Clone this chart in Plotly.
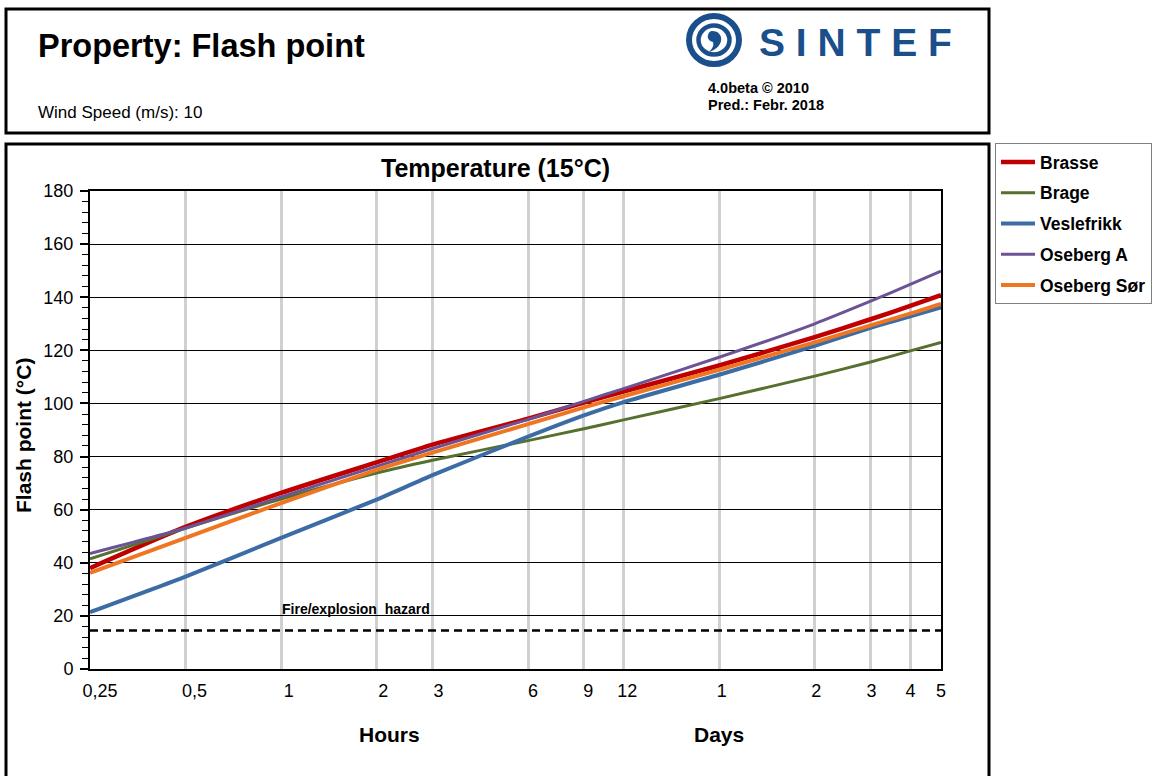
import math
import plotly.graph_objects as go

# Elapsed time (hours) of the sampled points and the flash point of each oil (°C)
hours = [0.25, 0.5, 1, 2, 3, 6, 9, 12, 24, 48, 72, 96, 120]
brasse = [38.0, 53.5, 66.3, 77.8, 84.5, 94.3, 100.3, 104.5, 114.3, 125.0, 131.7, 136.7, 140.8]
brage = [41.5, 53.0, 64.0, 73.8, 78.6, 86.0, 90.5, 93.8, 101.8, 110.3, 115.6, 119.8, 123.0]
veslefrikk = [21.4, 34.8, 49.4, 63.8, 73.0, 87.5, 95.5, 100.5, 110.8, 121.7, 128.5, 132.8, 136.2]
oseberg_a = [43.5, 53.1, 64.8, 76.3, 83.0, 94.0, 100.8, 105.6, 117.4, 130.0, 138.5, 144.8, 149.8]
oseberg_sor = [36.2, 49.4, 62.5, 75.0, 81.5, 92.2, 98.5, 102.7, 112.7, 123.0, 129.4, 133.8, 137.5]

series_names = ["Brasse", "Brage", "Veslefrikk", "Oseberg A", "Oseberg Sør"]
series_values = [brasse, brage, veslefrikk, oseberg_a, oseberg_sor]
series_colors = ["#C00000", "#55702F", "#3C6CA6", "#6B5395", "#EE7622"]
series_widths = [4.5, 3, 4, 3, 4]

# Time axis ticks: hours up to 12, then days
tick_hours = [0.25, 0.5, 1, 2, 3, 6, 9, 12, 24, 48, 72, 96, 120]
tick_text = ["0,25", "0,5", "1", "2", "3", "6", "9", "12", "1", "2", "3", "4", "5"]

HAZARD_LEVEL = 14.5

FONT = "Liberation Sans, Arial, sans-serif"
W, H = 1153, 776
L, R, T, B = 90, 941, 191, 669  # plot area in pixels


def fx(px):
    return (px - L) / (R - L)


def fy(py):
    return (B - py) / (B - T)


x_range = [math.log10(tick_hours[0]), math.log10(tick_hours[-1])]

fig = go.Figure()

# empty trace that carries the tick-label axis
fig.add_trace(go.Scatter(x=[], y=[], xaxis="x", yaxis="y", showlegend=False, hoverinfo="skip"))

for name, vals, col, wd in zip(series_names, series_values, series_colors, series_widths):
    fig.add_trace(go.Scatter(
        x=hours, y=vals, name=name, mode="lines", xaxis="x2", yaxis="y",
        line=dict(color=col, width=wd, shape="spline", smoothing=0.6),
        legendgroup=name,
    ))

annotations = [
    dict(text="<b>Property: Flash point</b>", x=fx(36), y=fy(46), xanchor="left", yanchor="middle",
         font=dict(size=32.5, color="black")),
    dict(text="Wind Speed (m/s): 10", x=fx(36), y=fy(113), xanchor="left", yanchor="middle",
         font=dict(size=17, color="black")),
    dict(text="<b>S I N T E F</b>", x=fx(757), y=fy(42), xanchor="left", yanchor="middle",
         font=dict(size=39, color="#1B4F8C")),
    dict(text="<b>4.0beta © 2010</b>", x=fx(706), y=fy(88), xanchor="left", yanchor="middle",
         font=dict(size=14.5, color="black")),
    dict(text="<b>Pred.: Febr. 2018</b>", x=fx(706), y=fy(105), xanchor="left", yanchor="middle",
         font=dict(size=14.5, color="black")),
    dict(text="<b>Temperature (15°C)</b>", x=fx(495), y=fy(168), xanchor="center", yanchor="middle",
         font=dict(size=25, color="black")),
    dict(text="<b>Flash point (°C)</b>", x=fx(23), y=fy(436), xanchor="center", yanchor="middle",
         textangle=-90, font=dict(size=21, color="black")),
    dict(text="<b>Hours</b>", x=fx(389), y=fy(734), xanchor="center", yanchor="middle",
         font=dict(size=21, color="black")),
    dict(text="<b>Days</b>", x=fx(719), y=fy(734), xanchor="center", yanchor="middle",
         font=dict(size=21, color="black")),
    dict(text="<b>Fire/explosion\u00a0 hazard</b>", x=fx(280), y=fy(609), xanchor="left", yanchor="middle",
         font=dict(size=14, color="black")),
]
for a in annotations:
    a.update(xref="paper", yref="paper", showarrow=False)

logo_blue = "#1B4F8C"
shapes = [
    # header frame
    dict(type="rect", xref="paper", yref="paper", x0=fx(6), x1=fx(989), y0=fy(9), y1=fy(133),
         line=dict(color="black", width=3), fillcolor="rgba(0,0,0,0)"),
    # chart frame
    dict(type="rect", xref="paper", yref="paper", x0=fx(6), x1=fx(989), y0=fy(144), y1=fy(800),
         line=dict(color="black", width=3), fillcolor="rgba(0,0,0,0)"),
    # fire / explosion hazard level
    dict(type="line", xref="paper", yref="y", x0=0, x1=fx(945), y0=HAZARD_LEVEL, y1=HAZARD_LEVEL,
         line=dict(color="black", width=2.5, dash="8px,5px")),
    # logo rings
    dict(type="circle", xref="paper", yref="paper", xsizemode="pixel", ysizemode="pixel",
         xanchor=fx(714), yanchor=fy(40), x0=-25, x1=25, y0=-24, y1=24,
         line=dict(color=logo_blue, width=6)),
    dict(type="circle", xref="paper", yref="paper", xsizemode="pixel", ysizemode="pixel",
         xanchor=fx(714), yanchor=fy(40), x0=-15.5, x1=15.5, y0=-14.5, y1=14.5,
         line=dict(color=logo_blue, width=4.5)),
    dict(type="path", xref="paper", yref="paper", xsizemode="pixel", ysizemode="pixel",
         xanchor=fx(714), yanchor=fy(40),
         path="M -2,9 C 5,9 8,4 7,-1 C 6,-6 1,-10 -5,-12 C -1,-8 0,-5 -1,-2 C -5,-1 -7,2 -6,5 C -5,8 -4,9 -2,9 Z",
         fillcolor=logo_blue, line=dict(width=0)),
]

fig.update_layout(
    width=W, height=H,
    margin=dict(l=L, r=W - R, t=T, b=H - B, autoexpand=False),
    paper_bgcolor="white", plot_bgcolor="white",
    font=dict(family=FONT, color="black"),
    showlegend=True,
    legend=dict(
        x=fx(995), y=fy(143), xanchor="left", yanchor="top", xref="paper", yref="paper",
        bordercolor="#808080", borderwidth=1, bgcolor="white",
        font=dict(size=17.5, color="black", family=FONT, weight="bold"),
        tracegroupgap=5, itemwidth=34,
    ),
    xaxis=dict(
        domain=[fx(100), 1], anchor="y", type="log", range=x_range,
        tickmode="array", tickvals=tick_hours, ticktext=tick_text,
        showgrid=False, zeroline=False, showline=False, ticks="",
        ticklabelstandoff=9,
        tickfont=dict(size=18, family=FONT, color="black"),
    ),
    xaxis2=dict(
        domain=[0, 1], anchor="y", type="log", range=x_range,
        tickmode="array", tickvals=tick_hours, showticklabels=False,
        showgrid=True, gridcolor="#D0D0D0", gridwidth=3, zeroline=False,
        showline=True, mirror=True, linecolor="black", linewidth=2, ticks="",
    ),
    yaxis=dict(
        domain=[0, 1], anchor="x2", range=[0, 180], tick0=0, dtick=20,
        showgrid=True, gridcolor="black", gridwidth=1, zeroline=False,
        showline=True, mirror=True, linecolor="black", linewidth=2,
        ticks="outside", ticklen=8, tickcolor="black", tickwidth=1.5,
        ticklabelstandoff=3,
        minor=dict(dtick=4, tick0=0, ticks="outside", ticklen=6, tickcolor="black", tickwidth=1.2, showgrid=False),
        tickfont=dict(size=18, family=FONT, color="black"),
    ),
    annotations=annotations,
    shapes=shapes,
)

fig.write_html("out.html")
